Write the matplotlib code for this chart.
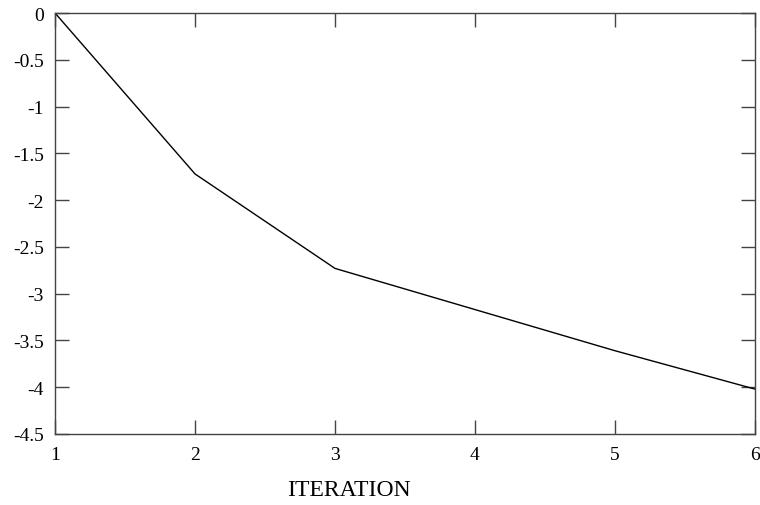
import matplotlib
matplotlib.use('Agg')
import matplotlib.pyplot as plt

iterations = [1, 2, 3, 4, 5, 6]
values = [0.0, -1.72, -2.73, -3.17, -3.61, -4.02]
x_ticks = [1, 2, 3, 4, 5, 6]
y_ticks = [0, -0.5, -1, -1.5, -2, -2.5, -3, -3.5, -4, -4.5]
y_labels = ['0', '-0.5', '-1', '-1.5', '-2', '-2.5', '-3', '-3.5', '-4', '-4.5']

plt.rcParams['font.family'] = ['Liberation Serif', 'DejaVu Serif']

fig = plt.figure(figsize=(7.6, 5.06), dpi=100)
ax = fig.add_axes([55 / 760, 1 - 435 / 506, 700 / 760, 421 / 506])

ax.plot(iterations, values, color='black', linewidth=1.0)

ax.set_xlim(1, 6)
ax.set_ylim(-4.5, 0)
ax.set_xticks(x_ticks)
ax.set_yticks(y_ticks)
ax.set_yticklabels(y_labels)
ax.tick_params(direction='in', length=10, width=1, color='#444444',
               top=True, right=True, labelsize=14)
ax.tick_params(axis='x', pad=9)
ax.tick_params(axis='y', pad=8)
for spine in ax.spines.values():
    spine.set_color('#444444')
    spine.set_linewidth(1)

# axis label sits left of centre, as in the original
fig.text(349 / 760, 1 - 496 / 506, 'ITERATION', fontsize=17,
         ha='center', va='baseline')

fig.savefig('out.png', dpi=100)
